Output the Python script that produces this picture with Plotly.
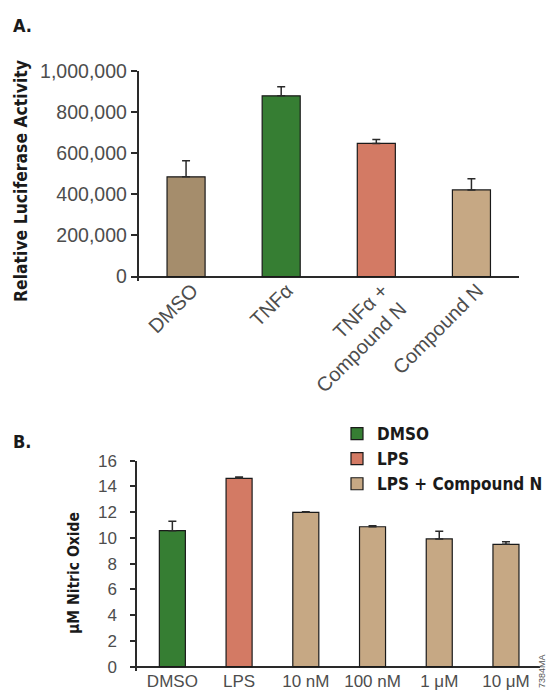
import plotly.graph_objects as go

# ---- Panel A data ----
a_categories = ["DMSO", "TNFα", "TNFα +<br>Compound N", "Compound N"]
a_values = [485000, 878000, 647000, 421000]
a_errors = [78000, 44000, 19000, 55000]
a_colors = ["#A58D6C", "#367E33", "#D37A64", "#C6A884"]
a_ticks = [0, 200000, 400000, 600000, 800000, 1000000]

# ---- Panel B data ----
b_categories = ["DMSO", "LPS", "10 nM", "100 nM", "1 μM", "10 μM"]
b_groups = ["DMSO", "LPS", "LPS + Compound N", "LPS + Compound N", "LPS + Compound N", "LPS + Compound N"]
b_values = [10.56, 14.63, 11.99, 10.87, 9.92, 9.50]
b_errors = [0.73, 0.10, 0.05, 0.08, 0.59, 0.20]
b_group_names = ["DMSO", "LPS", "LPS + Compound N"]
b_group_colors = ["#367E33", "#D37A64", "#C6A884"]
b_ticks = [0, 2, 4, 6, 8, 10, 12, 14, 16]

W, H = 548, 692
BOLD = "DejaVu Sans Condensed, DejaVu Sans, sans-serif"
REG = "Liberation Sans, Arial, sans-serif"
AX = "#2a2a2a"
TXT = "#4d4d4d"

fig = go.Figure()

fig.add_trace(go.Bar(
    x=a_categories, y=a_values, width=0.40,
    marker=dict(color=a_colors, line=dict(color="#1a1a1a", width=1.2)),
    error_y=dict(type="data", array=a_errors, arrayminus=[0] * len(a_errors),
                 symmetric=False, color=AX, thickness=1.5, width=4),
    xaxis="x", yaxis="y", showlegend=False,
))

for gname, gcol in zip(b_group_names, b_group_colors):
    xs = [c for c, g in zip(b_categories, b_groups) if g == gname]
    ys = [v for v, g in zip(b_values, b_groups) if g == gname]
    es = [e for e, g in zip(b_errors, b_groups) if g == gname]
    fig.add_trace(go.Bar(
        x=xs, y=ys, width=0.39, name=gname, legendgroup=gname,
        marker=dict(color=gcol, line=dict(color="#1a1a1a", width=1.2)),
        error_y=dict(type="data", array=es, arrayminus=[0] * len(es),
                     symmetric=False, color=AX, thickness=1.5, width=4),
        xaxis="x2", yaxis="y2",
    ))

def px_x(p):
    return p / W

def px_y(p):
    return 1 - p / H

fig.update_layout(
    width=W, height=H,
    margin=dict(l=0, r=0, t=0, b=0),
    paper_bgcolor="white", plot_bgcolor="white",
    barmode="overlay",
    font=dict(family=REG, color=TXT),
    xaxis=dict(
        domain=[px_x(138.5), px_x(519)], type="category",
        categoryorder="array", categoryarray=a_categories,
        range=[-0.5, 3.5], showline=False, ticks="", showgrid=False,
        tickangle=-45, tickfont=dict(size=20, color=TXT, family=REG),
        anchor="free", position=px_y(274), ticklabelshift=6,
        automargin=False,
    ),
    yaxis=dict(
        domain=[px_y(281), px_y(70.7)], range=[-21000, 1000000],
        tickvals=a_ticks, tickformat=",d", showline=True, linecolor=AX, linewidth=1.5,
        ticks="outside", ticklen=6, tickcolor=AX, tickwidth=1.5,
        showgrid=False, zeroline=True, zerolinecolor=AX, zerolinewidth=1.5,
        tickfont=dict(size=19.5, color=TXT, family=REG),
        anchor="x", automargin=False,
    ),
    xaxis2=dict(
        domain=[px_x(137), px_x(540)], type="category",
        categoryorder="array", categoryarray=b_categories,
        range=[-0.53, 5.51], showline=False, ticks="", showgrid=False,
        tickfont=dict(size=17, color=TXT, family=REG),
        anchor="free", position=px_y(669), automargin=False,
    ),
    yaxis2=dict(
        domain=[px_y(670.5), px_y(460.7)], range=[-0.3, 16],
        tickvals=b_ticks, showline=True, linecolor=AX, linewidth=1.5,
        ticks="outside", ticklen=5, tickcolor=AX, tickwidth=1.5,
        showgrid=False, zeroline=True, zerolinecolor=AX, zerolinewidth=1.5,
        tickfont=dict(size=17, color=TXT, family=REG), ticklabelstandoff=10,
        anchor="x2", automargin=False,
    ),
    legend=dict(
        x=px_x(337), y=px_y(416), xanchor="left", yanchor="top",
        font=dict(family=BOLD, size=17, color="#1a1a1a", weight="bold"),
        bgcolor="rgba(0,0,0,0)", tracegroupgap=9, traceorder="normal",
    ),
    annotations=[
        dict(text="<b>A.</b>", x=px_x(11), y=px_y(25), xref="paper", yref="paper",
             xanchor="left", yanchor="middle", showarrow=False,
             font=dict(family=BOLD, size=18, color="#1a1a1a")),
        dict(text="<b>B.</b>", x=px_x(11), y=px_y(441), xref="paper", yref="paper",
             xanchor="left", yanchor="middle", showarrow=False,
             font=dict(family=BOLD, size=18, color="#1a1a1a")),
        dict(text="<b>Relative Luciferase Activity</b>", x=px_x(21), y=px_y(181),
             xref="paper", yref="paper", xanchor="center", yanchor="middle",
             textangle=-90, showarrow=False,
             font=dict(family=BOLD, size=17.4, color="#1a1a1a")),
        dict(text="<b>μM Nitric Oxide</b>", x=px_x(74), y=px_y(573),
             xref="paper", yref="paper", xanchor="center", yanchor="middle",
             textangle=-90, showarrow=False,
             font=dict(family=BOLD, size=15.5, color="#1a1a1a")),
        dict(text="7384MA", x=px_x(542), y=px_y(690), xref="paper", yref="paper",
             xanchor="center", yanchor="bottom", textangle=-90, showarrow=False,
             font=dict(family=REG, size=9, color="#555")),
    ],
)

fig.write_html("out.html", config={"displayModeBar": False},
               post_script="document.body.style.margin='0px';")
